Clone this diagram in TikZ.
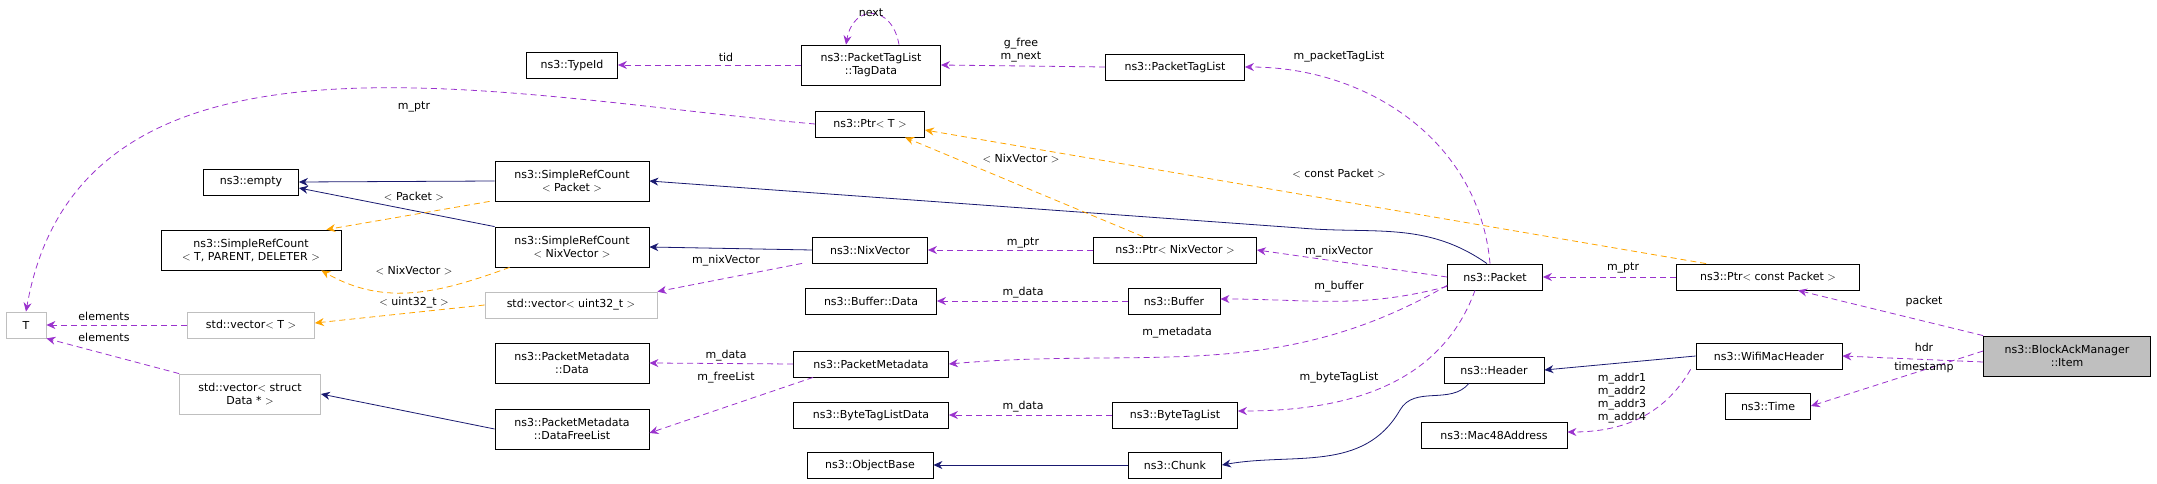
\documentclass[tikz,border=0pt]{standalone}
\usepackage{fontspec}
\setmainfont{DejaVu Sans}
\usetikzlibrary{arrows.meta}
\definecolor{usecol}{HTML}{9A32CD}
\definecolor{tmplcol}{HTML}{FFA500}
\definecolor{inhcol}{HTML}{191970}
\begin{document}
\begin{tikzpicture}[x=1pt,y=-1pt,font=\fontsize{11}{13}\selectfont,
  box/.style={draw,thick,fill=white,align=center,inner sep=1pt,minimum height=26},
  box2/.style={box,minimum height=40},
  ext/.style={box,draw=black!25},
  use/.style={usecol,thick,dash pattern=on 6pt off 4pt,-{Stealth[length=9,width=8]}},
  tmpl/.style={tmplcol,thick,dash pattern=on 6pt off 4pt,-{Stealth[length=9,width=8]}},
  inh/.style={inhcol,thick,-{Stealth[length=9,width=8]}},
  lab/.style={inner sep=1pt,align=center}]
 \useasboundingbox (0,0) rectangle (2157,484);

 %nodes
 \node[box,minimum width=91] (typeid) at (572,65) {ns3::TypeId};
 \node[box2,minimum width=139] (tagdata) at (871,65) {ns3::PacketTagList\\::TagData};
 \node[box,minimum width=139] (taglist) at (1175,67) {ns3::PacketTagList};
 \node[box,minimum width=109] (ptrt) at (870,124) {ns3::Ptr$<$ T $>$};
 \node[box,minimum width=95] (empty) at (251,182) {ns3::empty};
 \node[box2,minimum width=154] (srcpkt) at (572,181) {ns3::SimpleRefCount\\$<$ Packet $>$};
 \node[box2,minimum width=180] (srctpd) at (251,250) {ns3::SimpleRefCount\\$<$ T, PARENT, DELETER $>$};
 \node[box2,minimum width=154] (srcnix) at (572,247) {ns3::SimpleRefCount\\$<$ NixVector $>$};
 \node[box,minimum width=115] (nix) at (870,250) {ns3::NixVector};
 \node[box,minimum width=163] (ptrnix) at (1175,250) {ns3::Ptr$<$ NixVector $>$};
 \node[box,minimum width=95] (packet) at (1495,277) {ns3::Packet};
 \node[box,minimum width=183] (ptrpkt) at (1768,277) {ns3::Ptr$<$ const Packet $>$};
 \node[ext,minimum width=40] (T) at (26,325) {T};
 \node[ext,minimum width=127] (vect) at (251,325) {std::vector$<$ T $>$};
 \node[ext,minimum width=172] (vecu) at (571,305) {std::vector$<$ uint32\_t $>$};
 \node[box,minimum width=131] (bufdata) at (871,301) {ns3::Buffer::Data};
 \node[box,minimum width=92] (buffer) at (1174,301) {ns3::Buffer};
 \node[box2,minimum width=154] (pmdata) at (572,363) {ns3::PacketMetadata\\::Data};
 \node[box,minimum width=155] (pm) at (871,364) {ns3::PacketMetadata};
 \node[box2,minimum width=141,draw=black!25] (vecs) at (250,394) {std::vector$<$ struct\\Data * $>$};
 \node[box2,minimum width=154] (freelist) at (572,429) {ns3::PacketMetadata\\::DataFreeList};
 \node[box,minimum width=155] (btldata) at (871,415) {ns3::ByteTagListData};
 \node[box,minimum width=125] (btl) at (1175,415) {ns3::ByteTagList};
 \node[box,minimum width=126] (objbase) at (870,465) {ns3::ObjectBase};
 \node[box,minimum width=93] (chunk) at (1175,465) {ns3::Chunk};
 \node[box,minimum width=100] (header) at (1494,370) {ns3::Header};
 \node[box,minimum width=146] (mac) at (1494,435) {ns3::Mac48Address};
 \node[box,minimum width=146] (wifi) at (1769,356) {ns3::WifiMacHeader};
 \node[box,minimum width=85] (time) at (1768,406) {ns3::Time};
 \node[box2,minimum width=167,fill=black!25] (item) at (2067,356) {ns3::BlockAckManager\\::Item};

 %inheritance
 \draw[inh] (srcpkt.west) -- (empty.east);
 \draw[inh] (srcnix.north west) -- ([yshift=-6]empty.east);
 \draw[inh] (nix.west) -- (srcnix.east);
 \draw[inh] ([xshift=-8]packet.north) to[out=145,in=-5] (1300,228) -- (srcpkt.east);
 \draw[inh] (freelist.west) -- (vecs.east);
 \draw[inh] (chunk.west) -- (objbase.east);
 \draw[inh] ([xshift=-25]header.south) to[out=-130,in=60] (1400,410) to[out=-120,in=10] (chunk.east);
 \draw[inh] (wifi.west) -- (header.east);

 %templates
 \draw[tmpl] ([xshift=30]ptrpkt.north west) -- ([yshift=-6]ptrt.east);
 \draw[tmpl] ([xshift=-32]ptrnix.north) -- ([xshift=35]ptrt.south);
 \draw[tmpl] ([xshift=-5]srcpkt.south west) -- ([xshift=-15]srctpd.north east);
 \draw[tmpl] ([xshift=15]srcnix.south west) to[out=-160,in=-30] ([xshift=-20]srctpd.south east);
 \draw[tmpl] (vecu.west) -- ([yshift=2]vect.east);

 %members
 \draw[use] (tagdata.west) -- (typeid.east);
 \draw[use] ([xshift=28]tagdata.north) to[out=100,in=80,looseness=2] ([xshift=-25]tagdata.north);
 \draw[use] (taglist.west) -- (tagdata.east);
 \draw[use] ([xshift=-5]packet.north) to[out=95,in=0] (taglist.east);
 \draw[use] (ptrt.west) to[out=175,in=80] (T.north);
 \draw[use] (ptrpkt.west) -- (packet.east);
 \draw[use] (packet.west) -- (ptrnix.east);
 \draw[use] (ptrnix.west) -- (nix.east);
 \draw[use] ([xshift=-10]nix.south west) -- (vecu.north east);
 \draw[use] ([yshift=4]packet.south west) to[out=-165,in=0] ([yshift=2]buffer.east);
 \draw[use] (buffer.west) -- (bufdata.east);
 \draw[use] ([yshift=5]packet.south west) to[out=-150,in=5] (pm.east);
 \draw[use] (pm.west) -- (pmdata.east);
 \draw[use] ([xshift=20]pm.south west) -- ([yshift=-4]freelist.east);
 \draw[use] ([xshift=-20]packet.south) to[out=-110,in=0] ([yshift=4]btl.east);
 \draw[use] (btl.west) -- (btldata.east);
 \draw[use] (vect.west) -- (T.east);
 \draw[use] (vecs.north west) -- (T.south east);
 \draw[use] ([xshift=-5]wifi.south west) to[out=-120,in=0] ([yshift=3]mac.east);
 \draw[use] (item.north west) -- ([xshift=30]ptrpkt.south);
 \draw[use] ([yshift=-6]item.west) -- (wifi.east);
 \draw[use] ([yshift=5]item.west) -- (time.east);

 %labels
 \node[lab] (ltid) at (726,57) {tid};
 \node[lab] (lnext) at (871,13) {next};
 \node[lab] (lgfree) at (1021,50) {g\_free\\m\_next};
 \node[lab] (lptl) at (1339,57) {m\_packetTagList};
 \node[lab] (lmptr) at (414,107) {m\_ptr};
 \node[lab] (lcp) at (1339,174) {$<$ const Packet $>$};
 \node[lab] (lnv) at (1021,159) {$<$ NixVector $>$};
 \node[lab] (lpk) at (414,197) {$<$ Packet $>$};
 \node[lab] (lnv2) at (414,271) {$<$ NixVector $>$};
 \node[lab] (lnixv) at (726,261) {m\_nixVector};
 \node[lab] (lptr2) at (1023,243) {m\_ptr};
 \node[lab] (lnixv2) at (1339,252) {m\_nixVector};
 \node[lab] (lu32) at (414,303) {$<$ uint32\_t $>$};
 \node[lab] (lel1) at (104,316) {elements};
 \node[lab] (lel2) at (104,337) {elements};
 \node[lab] (ldata1) at (1023,293) {m\_data};
 \node[lab] (lbuf) at (1339,287) {m\_buffer};
 \node[lab] (lmeta) at (1177,333) {m\_metadata};
 \node[lab] (ldata2) at (726,356) {m\_data};
 \node[lab] (lfree) at (726,378) {m\_freeList};
 \node[lab] (ldata3) at (1023,407) {m\_data};
 \node[lab] (lbtl) at (1339,378) {m\_byteTagList};
 \node[lab] (laddr) at (1622,398) {m\_addr1\\m\_addr2\\m\_addr3\\m\_addr4};
 \node[lab] (lptr3) at (1623,268) {m\_ptr};
 \node[lab] (lpacket) at (1924,301) {packet};
 \node[lab] (lhdr) at (1924,347) {hdr};
 \node[lab] (lts) at (1924,367) {timestamp};
\end{tikzpicture}
\end{document}
